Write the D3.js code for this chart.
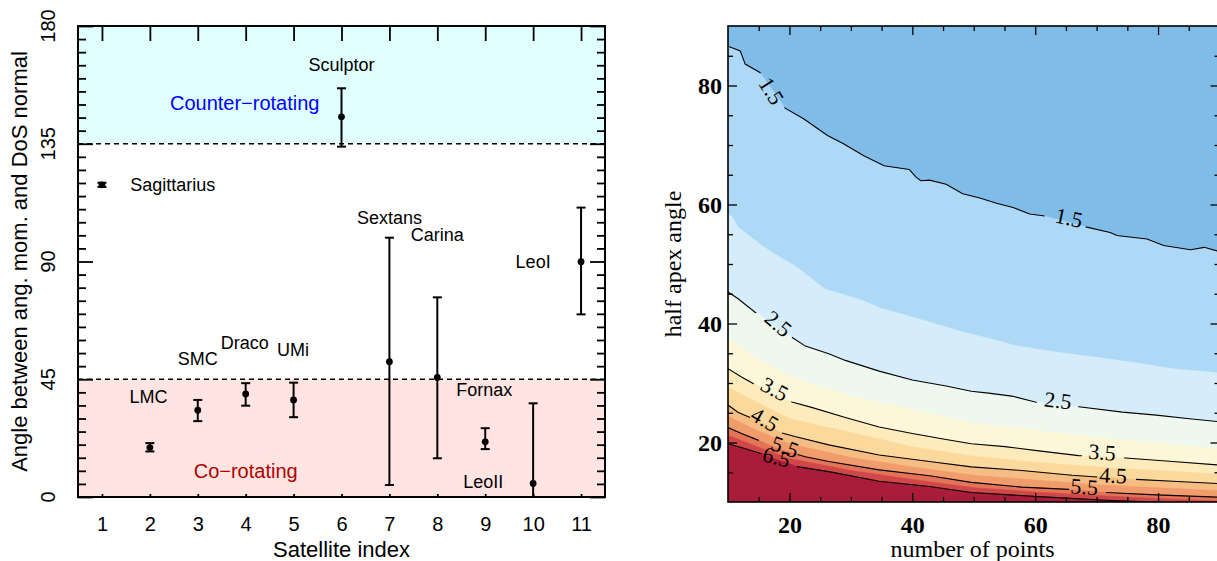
<!DOCTYPE html>
<html><head><meta charset="utf-8">
<script src="https://cdn.jsdelivr.net/npm/d3@7"></script>
<style>body{margin:0;background:#fff} svg{display:block}</style>
</head><body><svg id="c" width="1217" height="561"></svg>
<script>
// ---------------- LEFT PANEL DATA ----------------
const satIndex = [1,2,3,4,5,6,7,8,9,10,11];
const satNames = ["Sagittarius","LMC","SMC","Draco","UMi","Sculptor","Sextans","Carina","Fornax","LeoII","LeoI"];
const angleVal = [119.3, 18.9, 33.2, 39.4, 37.1, 145.3, 51.7, 45.7, 21.1, 5.2, 89.9];
const angleLo  = [118.5, 17.4, 29.0, 34.9, 30.5, 133.9, 4.6, 14.8, 18.3, 0.0, 69.8];
const angleHi  = [120.1, 20.6, 37.1, 43.5, 43.7, 156.2, 99.1, 76.3, 26.3, 35.8, 110.6];
const nameX    = [1.59, 1.97, 3.0, 3.98, 4.99, 6.0, 7.0, 8.0, 8.98, 8.96, 10.0];
const nameY    = [119.3, 38.3, 52.7, 58.9, 56.4, 165.1, 106.6, 100.1, 41.1, 5.9, 89.8];
const nameAnchor = ["start","middle","middle","middle","middle","middle","middle","middle","middle","middle","middle"];
const yMajorTicks = [0,45,90,135,180];
const yMinorTicks = d3.range(5,180,5).filter(v=>v%45!==0);
const regionLabels = ["Counter\u2212rotating","Co\u2212rotating"];
const regionLabelX = [3.98, 4.0];
const regionLabelY = [150.6, 10.0];
const regionLabelColor = ["#0000ff","#b00000"];

// ---------------- RIGHT PANEL DATA ----------------
const fillLevels = [1.5,2.0,2.5,3.0,3.5,4.0,4.5,5.0,5.5,6.0,6.5];
const fillColors = ["#80bce8","#aed9f6","#d5edfb","#eef8ef","#fcf7d9","#fdebbb","#fbd89c","#f6bd82","#f09c6c","#e47457","#d0474a","#a91c3a"];
const b15 = [[10,86.6],[12,85.8],[12.8,83.6],[15.2,82.2],[19.3,76.2],[22.3,74.4],[26.2,71.6],[28.8,70.2],[32.1,68.2],[35.4,66.5],[39.5,65.9],[40.6,64.6],[41.4,64.0],[42.8,64.1],[45.5,63.4],[48.2,61.8],[51.0,61.1],[53.7,60.2],[56.4,59.5],[59.1,58.4],[61.3,58.1],[64.8,57.2],[68.4,56.2],[72.2,55.3],[73.3,54.8],[78.2,54.2],[80.9,53.1],[85.3,52.4],[87.5,52.8],[90,52.1]];
const b20 = [[10,58.4],[10.8,57.8],[11.6,56.2],[15.5,53.1],[17.1,52.0],[20.9,49.7],[25.8,45.8],[31.8,43.9],[35.1,42.5],[40.0,41.1],[45.5,39.4],[49.6,38.2],[52.6,37.5],[56.7,36.3],[63.3,35.2],[71.5,34.1],[76.9,33.3],[82.4,32.4],[90,31.7]];
const b25 = [[10,45.3],[11.6,44.2],[14.4,41.9],[15.2,41.5],[17,39.8],[20.4,37.7],[22.6,36.2],[26.4,34.9],[29.1,33.8],[34.6,32.0],[40.0,30.5],[45.5,29.5],[49.6,28.6],[52.4,28.3],[56.2,27.8],[60.0,26.8],[63.5,26.4],[67.1,26.0],[74.2,25.1],[79.7,24.6],[85.1,24.0],[90,23.5]];
const b30 = [[10,37.6],[15,34.0],[20,31.2],[25,29.4],[30,27.8],[40,25.6],[50,23.2],[60,22.1],[70,20.9],[80,19.9],[90,19.0]];
const b35 = [[10,32.4],[12.2,31.0],[14.1,29.9],[17,28.2],[20.4,26.8],[23.6,25.9],[29.1,24.2],[34.6,22.6],[40.0,21.5],[45.5,20.5],[49.6,19.8],[55.1,19.3],[60.6,18.6],[67.1,17.8],[70.5,17.6],[74.7,17.4],[82.4,16.8],[90,16.2]];
const b40 = [[10,29.3],[15,26.6],[20,24.0],[30,21.7],[40,19.3],[50,17.7],[60,16.7],[70,15.9],[80,15.3],[90,14.7]];
const b45 = [[10,26.3],[11.6,25.1],[13.6,24.2],[16,22.9],[18.8,21.6],[20.9,21.0],[26.4,19.6],[34.6,17.9],[42.8,16.8],[49.6,15.9],[57.8,15.3],[66.0,14.5],[70.1,14.2],[76.4,13.8],[82.4,13.5],[90,13.1]];
const b50 = [[10,24.4],[15,21.9],[20,19.8],[30,17.5],[40,15.9],[50,14.5],[60,13.7],[70,12.9],[80,12.4],[90,11.9]];
const b55 = [[10,22.5],[12.2,21.5],[14.9,20.4],[18,19.0],[22.6,17.6],[26.4,16.8],[34.6,15.4],[42.8,14.4],[49.6,13.3],[57.8,12.5],[66.0,12.1],[71.5,11.6],[79.7,11.2],[90,10.8]];
const b60 = [[10,21.2],[15,19.2],[20,17.3],[30,15.3],[40,13.8],[50,12.4],[60,11.7],[70,11.1],[80,10.6],[90,10.15]];
const b65 = [[10,19.8],[12.7,19.0],[15.5,18.1],[18,17.1],[21.5,15.9],[26.4,15.1],[34.6,13.5],[42.8,12.6],[49.6,11.6],[60.6,10.9],[71.5,10.3],[79.7,10.0],[90,9.5]];
const boundaries = [b15,b20,b25,b30,b35,b40,b45,b50,b55,b60,b65];
const lineLevels = [1.5,2.5,3.5,4.5,5.5,6.5];
const lineGaps = [
  [[15.3,19.2],[61.5,68.2]],
  [[14.6,20.4],[60.3,67.0]],
  [[14.2,20.3],[67.6,74.5]],
  [[13.6,18.8],[70.1,76.4]],
  [[15.0,21.3],[65.5,71.5]],
  [[15.5,21.2]]
];
const cLabelText  = ["1.5","1.5","2.5","2.5","3.5","3.5","4.5","4.5","5.5","5.5","6.5"];
const cLabelN     = [17.1, 65.5, 18.2, 63.7, 17.6, 70.9, 16.0, 72.7, 19.3, 68.0, 17.9];
const cLabelTheta = [79.1, 57.8, 40.0, 27.1, 29.0, 18.4, 23.9, 14.5, 19.3, 12.6, 17.6];
const cLabelRot   = [58, 12, 40, 6, 28, 4, 30, 3, 20, 4, 15];
const xMajorR = [20,40,60,80];
const xMinorR = [15,25,30,35,45,50,55,65,70,75,85];
const yMajorR = [20,40,60,80];
const yMinorR = [15,25,30,35,45,50,55,65,70,75,85];

// ---------------- DRAW ----------------
const svg = d3.select("#c");
const SANS = "'Liberation Sans', Arial, Helvetica, sans-serif";
const SERIF = "'Liberation Serif', 'Times New Roman', serif";

// LEFT
const L = {x0:78, x1:605, y0:26, y1:497};
const xL = d3.scaleLinear().domain([0.5,11.5]).range([L.x0,L.x1]);
const yL = d3.scaleLinear().domain([0,180]).range([L.y1,L.y0]);
const gl = svg.append("g");
gl.append("rect").attr("x",L.x0).attr("y",yL(180)).attr("width",L.x1-L.x0).attr("height",yL(135)-yL(180)).attr("fill","#e0ffff");
gl.append("rect").attr("x",L.x0).attr("y",yL(45)).attr("width",L.x1-L.x0).attr("height",yL(0)-yL(45)).attr("fill","#ffe4e1");
[45,135].forEach(v=>{
  gl.append("line").attr("x1",L.x0).attr("x2",L.x1).attr("y1",yL(v)).attr("y2",yL(v))
    .attr("stroke","#000").attr("stroke-width",1.3).attr("stroke-dasharray","5,4");
});
function styleAxis(g){ g.select(".domain").remove(); g.selectAll(".tick line").attr("stroke","#000").attr("stroke-width",1.8); }
gl.append("g").attr("transform",`translate(0,${L.y0})`).call(d3.axisTop(xL).tickValues(satIndex).tickSize(-15).tickFormat("")).call(styleAxis);
const bx = gl.append("g").attr("transform",`translate(0,${L.y1})`).call(d3.axisBottom(xL).tickValues(satIndex).tickSize(-3).tickPadding(20)).call(styleAxis);
bx.selectAll("text").attr("font-family",SANS).attr("font-size",20).attr("fill","#000");
gl.append("g").attr("transform",`translate(${L.x0},0)`).call(d3.axisLeft(yL).tickValues(yMajorTicks).tickSize(-15).tickFormat("")).call(styleAxis);
gl.append("g").attr("transform",`translate(${L.x0},0)`).call(d3.axisLeft(yL).tickValues(yMinorTicks).tickSize(-8).tickFormat("")).call(styleAxis);
gl.append("g").attr("transform",`translate(${L.x1},0)`).call(d3.axisRight(yL).tickValues(yMajorTicks).tickSize(-15).tickFormat("")).call(styleAxis);
gl.append("g").attr("transform",`translate(${L.x1},0)`).call(d3.axisRight(yL).tickValues(yMinorTicks).tickSize(-8).tickFormat("")).call(styleAxis);
yMajorTicks.forEach(v=>{
  gl.append("text").attr("x",55).attr("y",yL(v)).attr("transform",`rotate(-90,55,${yL(v)})`)
    .attr("text-anchor","middle").attr("font-family",SANS).attr("font-size",20).text(v);
});
gl.append("rect").attr("x",L.x0).attr("y",L.y0).attr("width",L.x1-L.x0).attr("height",L.y1-L.y0)
  .attr("fill","none").attr("stroke","#000").attr("stroke-width",2);
// error bars
satIndex.forEach((s,i)=>{
  const cx = xL(s);
  gl.append("line").attr("x1",cx).attr("x2",cx).attr("y1",yL(angleLo[i])).attr("y2",yL(angleHi[i])).attr("stroke","#000").attr("stroke-width",2);
  [angleLo[i],angleHi[i]].forEach(v=>{
    gl.append("line").attr("x1",cx-4.5).attr("x2",cx+4.5).attr("y1",yL(v)).attr("y2",yL(v)).attr("stroke","#000").attr("stroke-width",2);
  });
  gl.append("circle").attr("cx",cx).attr("cy",yL(angleVal[i])).attr("r",3.4).attr("fill","#000");
  gl.append("text").attr("x",xL(nameX[i])).attr("y",yL(nameY[i])).attr("dy","0.35em")
    .attr("text-anchor",nameAnchor[i]).attr("font-family",SANS).attr("font-size",18).text(satNames[i]);
});
regionLabels.forEach((t,i)=>{
  gl.append("text").attr("x",xL(regionLabelX[i])).attr("y",yL(regionLabelY[i])).attr("dy","0.35em")
    .attr("text-anchor","middle").attr("font-family",SANS).attr("font-size",20).attr("fill",regionLabelColor[i]).text(t);
});
gl.append("text").attr("x",(L.x0+L.x1)/2).attr("y",557).attr("text-anchor","middle")
  .attr("font-family",SANS).attr("font-size",22).text("Satellite index");
gl.append("text").attr("transform",`translate(27,${(L.y0+L.y1)/2}) rotate(-90)`).attr("text-anchor","middle")
  .attr("font-family",SANS).attr("font-size",22).text("Angle between ang. mom. and DoS normal");

// RIGHT
const R = {x0:728, x1:1219.5, y0:26, y1:502};
const xR = d3.scaleLinear().domain([10,90]).range([R.x0,R.x1]);
const yR = d3.scaleLinear().domain([10,90]).range([R.y1,R.y0]);
const gr = svg.append("g");
svg.append("defs").append("clipPath").attr("id","clipR").append("rect")
  .attr("x",R.x0).attr("y",R.y0).attr("width",R.x1-R.x0).attr("height",R.y1-R.y0);
const gc = gr.append("g").attr("clip-path","url(#clipR)");
gc.append("rect").attr("x",R.x0).attr("y",R.y0).attr("width",R.x1-R.x0).attr("height",R.y1-R.y0).attr("fill",fillColors[0]);
const area = d3.area().x(d=>xR(d[0])).y0(yR(0)).y1(d=>yR(d[1]));
boundaries.forEach((b,i)=>{
  gc.append("path").attr("d",area(b)).attr("fill",fillColors[i+1]).attr("stroke",fillColors[i+1]).attr("stroke-width",0.5);
});
function segmentsOutside(pts, gaps){
  const edges = gaps.flat();
  const dense = [pts[0]];
  for (let i=1;i<pts.length;i++){
    const a=pts[i-1], b=pts[i];
    edges.filter(e=>e>a[0]&&e<b[0]).sort((u,v)=>u-v).forEach(e=>{
      const t=(e-a[0])/(b[0]-a[0]); dense.push([e,a[1]+t*(b[1]-a[1])]);
    });
    dense.push(b);
  }
  const segs=[]; let cur=[dense[0]];
  for (let i=1;i<dense.length;i++){
    const a=dense[i-1], b=dense[i], mid=(a[0]+b[0])/2;
    if (gaps.some(g=>mid>g[0]&&mid<g[1])){ if(cur.length>1) segs.push(cur); cur=[b]; }
    else cur.push(b);
  }
  if(cur.length>1) segs.push(cur);
  return segs;
}
const line = d3.line().x(d=>xR(d[0])).y(d=>yR(d[1]));
lineLevels.forEach((lv,k)=>{
  const b = boundaries[fillLevels.indexOf(lv)];
  segmentsOutside(b, lineGaps[k]).forEach(seg=>{
    gc.append("path").attr("d",line(seg)).attr("fill","none").attr("stroke","#000").attr("stroke-width",1.1);
  });
});
cLabelText.forEach((t,i)=>{
  const px=xR(cLabelN[i]), py=yR(cLabelTheta[i]);
  gc.append("text").attr("transform",`translate(${px},${py}) rotate(${cLabelRot[i]})`).attr("dy","0.35em")
    .attr("text-anchor","middle").attr("font-family",SERIF).attr("font-size",22).attr("fill","#000").text(t);
});
function styleAxisR(g){ g.select(".domain").remove(); g.selectAll(".tick line").attr("stroke","#000").attr("stroke-width",1.3); }
const bxr = gr.append("g").attr("transform",`translate(0,${R.y1})`).call(d3.axisBottom(xR).tickValues(xMajorR).tickSize(-9).tickPadding(14)).call(styleAxisR);
bxr.selectAll("text").attr("font-family",SERIF).attr("font-size",24).attr("font-weight","bold").attr("fill","#000");
gr.append("g").attr("transform",`translate(0,${R.y1})`).call(d3.axisBottom(xR).tickValues(xMinorR).tickSize(-5).tickFormat("")).call(styleAxisR);
gr.append("g").attr("transform",`translate(0,${R.y0})`).call(d3.axisTop(xR).tickValues(xMajorR).tickSize(-9).tickFormat("")).call(styleAxisR);
gr.append("g").attr("transform",`translate(0,${R.y0})`).call(d3.axisTop(xR).tickValues(xMinorR).tickSize(-5).tickFormat("")).call(styleAxisR);
const lyr = gr.append("g").attr("transform",`translate(${R.x0},0)`).call(d3.axisLeft(yR).tickValues(yMajorR).tickSize(-9).tickPadding(6)).call(styleAxisR);
lyr.selectAll("text").attr("font-family",SERIF).attr("font-size",24).attr("font-weight","bold").attr("fill","#000");
gr.append("g").attr("transform",`translate(${R.x0},0)`).call(d3.axisLeft(yR).tickValues(yMinorR).tickSize(-5).tickFormat("")).call(styleAxisR);
gr.append("g").attr("transform",`translate(${R.x1},0)`).call(d3.axisRight(yR).tickValues(yMajorR).tickSize(-9).tickFormat("")).call(styleAxisR);
gr.append("g").attr("transform",`translate(${R.x1},0)`).call(d3.axisRight(yR).tickValues(yMinorR).tickSize(-5).tickFormat("")).call(styleAxisR);
gr.append("rect").attr("x",R.x0).attr("y",R.y0).attr("width",R.x1-R.x0).attr("height",R.y1-R.y0)
  .attr("fill","none").attr("stroke","#000").attr("stroke-width",1.6);
gr.append("text").attr("x",(R.x0+1217)/2).attr("y",557).attr("text-anchor","middle")
  .attr("font-family",SERIF).attr("font-size",24).text("number of points");
gr.append("text").attr("transform",`translate(681,${(R.y0+R.y1)/2}) rotate(-90)`).attr("text-anchor","middle")
  .attr("font-family",SERIF).attr("font-size",24).text("half apex angle");
</script></body></html>
